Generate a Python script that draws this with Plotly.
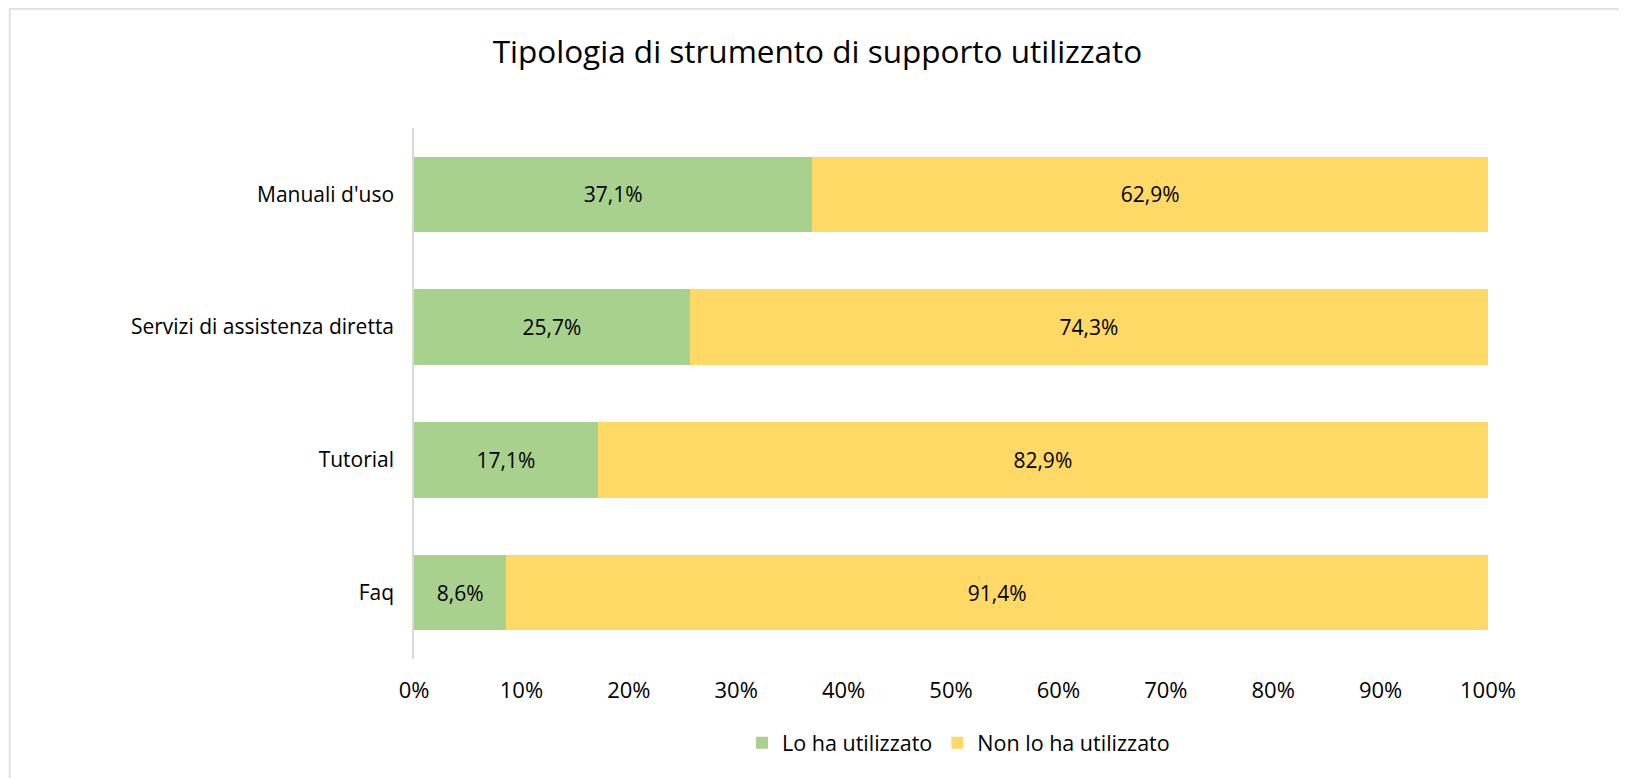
import plotly.graph_objects as go

categories = ["Manuali d'uso", "Servizi di assistenza diretta", "Tutorial", "Faq"]
used = [37.1, 25.7, 17.1, 8.6]
not_used = [62.9, 74.3, 82.9, 91.4]
series_names = ["Lo ha utilizzato", "Non lo ha utilizzato"]
tick_values = list(range(0, 101, 10))
tick_labels = [f"{v}%" for v in tick_values]

FONT = "Open Sans"

fig = go.Figure()
fig.add_trace(go.Bar(y=categories, x=used, name=series_names[0], orientation="h",
                     marker=dict(color="#A9D18E", line=dict(width=0)),
                     texttemplate="%{x:.1f}%", textposition="inside", insidetextanchor="middle",
                     textfont=dict(color="black", size=21, family=FONT)))
fig.add_trace(go.Bar(y=categories, x=not_used, name=series_names[1], orientation="h",
                     marker=dict(color="#FFD966", line=dict(width=0)),
                     texttemplate="%{x:.1f}%", textposition="inside", insidetextanchor="middle",
                     textfont=dict(color="black", size=21, family=FONT)))

# the page body adds an 8px offset, so the figure is 8px smaller than the window
fig.update_layout(
    barmode="stack",
    bargap=0.43,
    separators=",.",
    width=1619, height=770,
    margin=dict(l=406, r=139, t=120, b=119),
    paper_bgcolor="white", plot_bgcolor="white",
    font=dict(family=FONT, color="black", size=21),
    title=dict(text="Tipologia di strumento di supporto utilizzato", x=0.5, xanchor="center",
               y=1 - 44 / 770, yanchor="middle", font=dict(size=31.5, family=FONT, color="black")),
    legend=dict(orientation="h", x=0.507, xanchor="center", y=-0.158, yanchor="middle",
                font=dict(size=21.5, family=FONT), traceorder="normal", itemwidth=30),
    showlegend=True,
)
fig.update_xaxes(range=[0, 100], tickvals=tick_values, ticktext=tick_labels, showgrid=False,
                 zeroline=False, showline=False, ticks="outside", ticklen=12,
                 tickcolor="rgba(0,0,0,0)", tickfont=dict(size=22))
fig.update_yaxes(categoryorder="array", categoryarray=categories[::-1], showgrid=False,
                 showline=True, linecolor="#D9D9D9", linewidth=1.5, ticks="outside",
                 ticklen=14, tickcolor="rgba(0,0,0,0)", tickfont=dict(size=21))

# chart frame (only top and left edges fall inside the picture)
fig.add_shape(type="rect", xref="paper", yref="paper", x0=-0.3765, x1=1.5, y0=-0.5, y1=1.224,
              line=dict(color="#D9D9D9", width=1.5), fillcolor="rgba(0,0,0,0)", layer="below")

fig.write_html("out.html")
